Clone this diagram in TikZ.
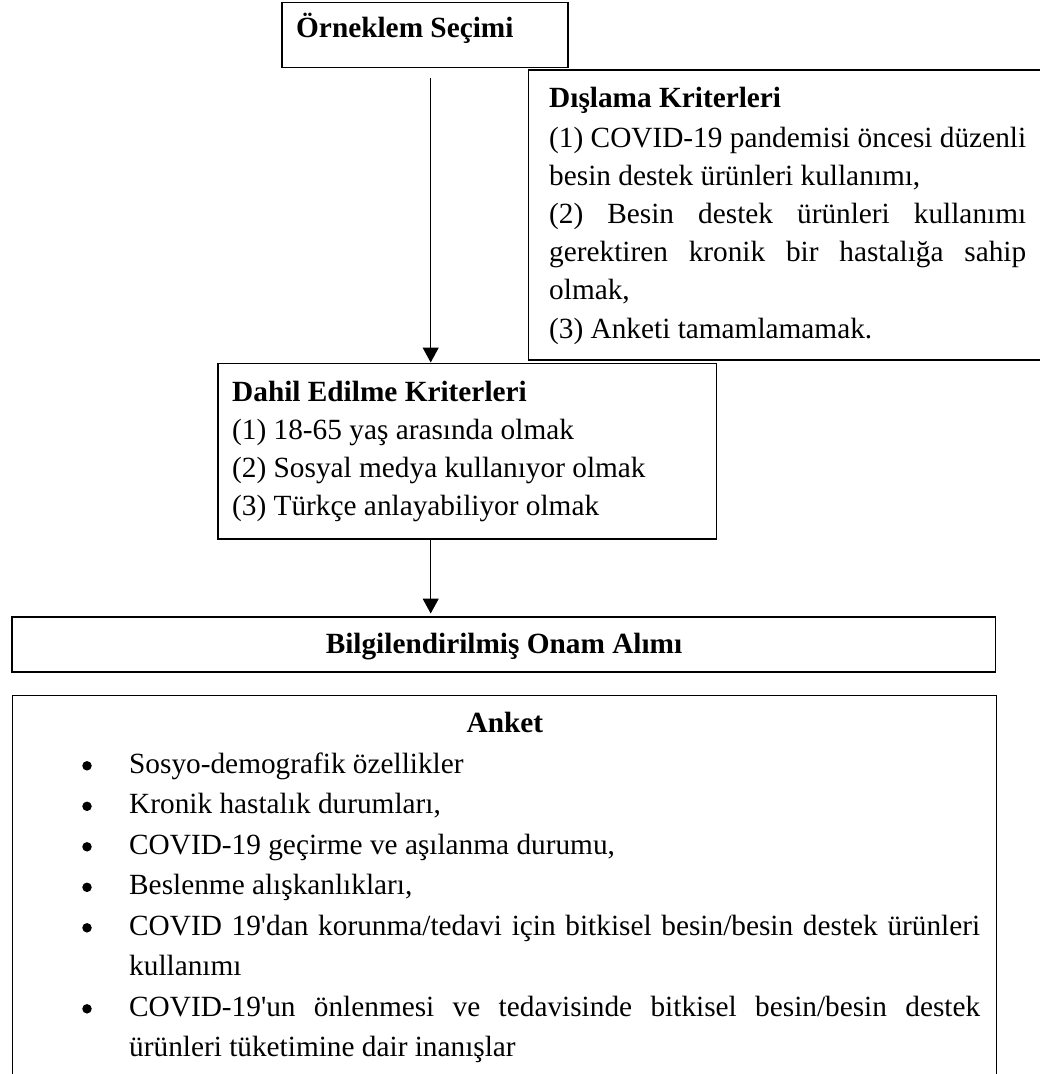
\documentclass[tikz,border=0pt]{standalone}
\usepackage{fontspec}
\setmainfont{Liberation Serif}
\usetikzlibrary{arrows.meta}
\begin{document}
\begin{tikzpicture}[x=1pt,y=-1pt,
  box/.style={draw, line width=1.6pt, inner sep=0, anchor=north west},
  txt/.style={anchor=base west, inner sep=0, font=\fontsize{29.3}{35}\selectfont},
  btxt/.style={anchor=base west, inner sep=0, font=\fontsize{29.3}{35}\selectfont\bfseries},
  ctxt/.style={anchor=base, inner sep=0, font=\fontsize{29.3}{35}\selectfont\bfseries},
  conn/.style={line width=1.3pt, -{Triangle[length=15pt,width=16pt]}},
  bul/.style={circle, fill, inner sep=0, minimum size=9.5pt}]
\useasboundingbox (0,0) rectangle (1040,1074);
\clip (0,0) rectangle (1040,1074);

% boxes
\node[box, minimum width=286pt, minimum height=65.2pt] (orn) at (281,1.5) {};
\node[box, minimum width=518.5pt, minimum height=289.7pt] (disl) at (527.5,69.3) {};
\node[box, minimum width=498.7pt, minimum height=175.5pt] (dahil) at (217,362.5) {};
\node[box, minimum width=983.7pt, minimum height=55.3pt] (bilg) at (11,616) {};
\node[box, minimum width=984pt, minimum height=395pt] (anket) at (11.7,694.7) {};

% Örneklem
\node[btxt] (tOrn) at (296,37) {Örneklem Seçimi};

% Dışlama
\node[btxt] (tD0) at (549,107) {Dışlama Kriterleri};
\node[txt] (tD1) at (549,147) {\makebox[477pt][s]{(1) COVID-19 pandemisi öncesi düzenli}};
\node[txt] (tD2) at (549,185.2) {besin destek ürünleri kullanımı,};
\node[txt] (tD3) at (549,223.4) {\makebox[477pt][s]{(2) Besin destek ürünleri kullanımı}};
\node[txt] (tD4) at (549,261.6) {\makebox[477pt][s]{gerektiren kronik bir hastalığa sahip}};
\node[txt] (tD5) at (549,299.8) {olmak,};
\node[txt] (tD6) at (549,338) {(3) Anketi tamamlamamak.};

% Dahil
\node[btxt] (tH0) at (232,401) {Dahil Edilme Kriterleri};
\node[txt] (tH1) at (232,439.3) {(1) 18-65 yaş arasında olmak};
\node[txt] (tH2) at (232,477.3) {(2) Sosyal medya kullanıyor olmak};
\node[txt] (tH3) at (232,515.3) {(3) Türkçe anlayabiliyor olmak};

% Bilgilendirilmiş
\node[ctxt] (tB) at (504,653) {Bilgilendirilmiş Onam Alımı};

% Anket
\node[ctxt] (tA) at (505,732) {Anket};
\node[bul] (b1) at (87,765.8) {};
\node[txt] (tA1) at (129,773.3) {Sosyo-demografik özellikler};
\node[bul] (b2) at (87,806.3) {};
\node[txt] (tA2) at (129,813.8) {Kronik hastalık durumları,};
\node[bul] (b3) at (87,846.8) {};
\node[txt] (tA3) at (129,854.3) {COVID-19 geçirme ve aşılanma durumu,};
\node[bul] (b4) at (87,887.3) {};
\node[txt] (tA4) at (129,894.8) {Beslenme alışkanlıkları,};
\node[bul] (b5) at (87,927.8) {};
\node[txt] (tA5) at (129,935.3) {\makebox[851pt][s]{COVID 19\textquotesingle dan korunma/tedavi için bitkisel besin/besin destek ürünleri}};
\node[txt] (tA6) at (129,975.8) {kullanımı};
\node[bul] (b6) at (87,1008.8) {};
\node[txt] (tA7) at (129,1016.3) {\makebox[851pt][s]{COVID-19\textquotesingle un önlenmesi ve tedavisinde bitkisel besin/besin destek}};
\node[txt] (tA8) at (129,1056.8) {ürünleri tüketimine dair inanışlar};

% connectors
\coordinate (a1) at (430.7,78.3);
\draw[conn] (a1) -- (a1 |- dahil.north);
\draw[conn, shorten >=2.5pt] (a1 |- dahil.south) -- (a1 |- bilg.north);
\end{tikzpicture}
\end{document}
